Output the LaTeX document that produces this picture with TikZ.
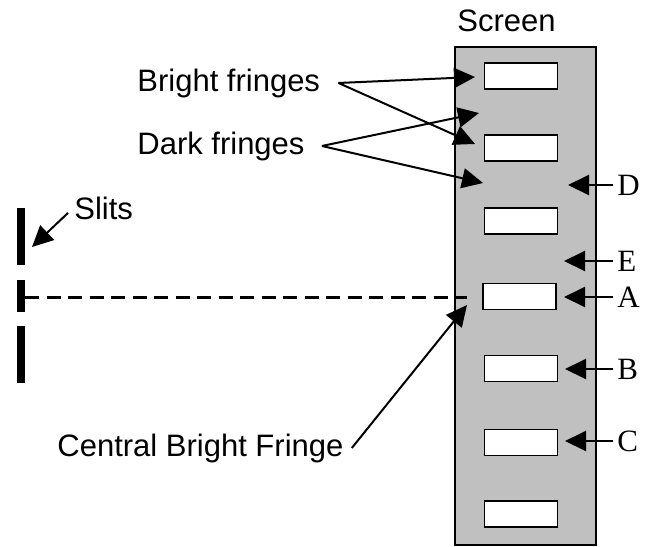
\documentclass[tikz,border=0pt]{standalone}
\usepackage{fontspec}
\setmainfont{Liberation Sans}
\newfontfamily\letterfont{Liberation Serif}
\usetikzlibrary{arrows.meta}
\definecolor{screengray}{RGB}{192,192,192}

\begin{document}
\begin{tikzpicture}
   [x=0.5pt, y=-0.5pt,
   screenbox/.style={draw, fill=screengray, line width=1pt, minimum width=70.5pt, minimum height=249pt, inner sep=0pt},
   fringe/.style={draw, fill=white, line width=0.85pt, minimum width=36.5pt, minimum height=13pt, inner sep=0pt},
   pointer/.style={-{Triangle[length=10.5pt,width=10pt]}, line width=1pt},
   caption/.style={anchor=base west, inner sep=0pt, font=\fontsize{15.5}{18}\selectfont},
   letter/.style={anchor=west, inner sep=2pt, font=\letterfont\fontsize{15.5}{18}\selectfont},
   slit/.style={line width=4pt}]
    \useasboundingbox (0,0) rectangle (647,546);
    % screen and fringes
    \node[screenbox] (screen) at (525.5,296) {};
    \node[caption] (screenlabel) at (457,32) {Screen};
    \foreach \fx/\fy [count=\i] in {521/76,521/148,521/221,519.5/296.5,521/368.5,521/442.5,521/514}
      \node[fringe] (f\i) at (\fx,\fy) {};
    % slits and axis
    \foreach \top/\bot in {208/265,280/312,326/383}
      \draw[slit] (21,\top) -- (21,\bot);
    \coordinate (axisstart) at (25,297);
    \coordinate (axisend) at (467,297);
    \draw[dash pattern=on 7pt off 3.75pt, line width=1.5pt] (axisstart) -- (axisend);
    % labels on the left
    \node[caption] (bright) at (137,91) {Bright fringes};
    \node[caption] (dark) at (137,154) {Dark fringes};
    \node[caption] (slits) at (74,219) {Slits};
    \node[caption] (central) at (57,456) {Central Bright Fringe};
    \coordinate (brighttipa) at (475,77);
    \coordinate (brighttipb) at (475,144);
    \coordinate (darktipa) at (479,113);
    \coordinate (darktipb) at (483,183);
    \coordinate (slittip) at (32,247);
    \coordinate (centraltip) at (467,305);
    \draw[pointer] ([xshift=9pt]bright.east) -- (brighttipa);
    \draw[pointer] ([xshift=9pt]bright.east) -- (brighttipb);
    \draw[pointer] ([xshift=8.5pt]dark.east) -- (darktipa);
    \draw[pointer] ([xshift=8.5pt]dark.east) -- (darktipb);
    \draw[pointer] ([shift={(-6,5)}]slits.west) -- (slittip);
    \draw[pointer] ([xshift=4pt]central.east) -- (centraltip);
    % letters on the right
    \foreach \name/\ly/\tx in {D/185/568,E/261/564,A/297/564,B/369/565,C/441/565} {
      \node[letter] (l\name) at (613,\ly) {\name};
      \coordinate (t\name) at (\tx,\ly);
      \draw[pointer] (l\name.west) -- (t\name);
    }
\end{tikzpicture}
\end{document}
